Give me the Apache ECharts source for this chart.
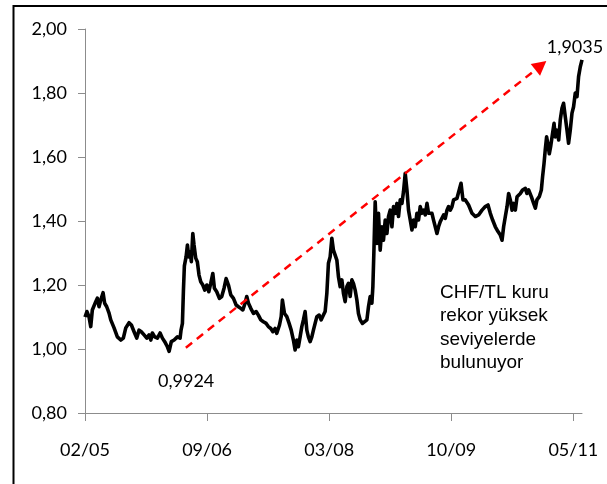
<!DOCTYPE html>
<html>
<head>
<meta charset="utf-8">
<script src="https://cdn.jsdelivr.net/npm/echarts@6/dist/echarts.min.js"></script>
<style>html,body{margin:0;padding:0;background:#fff;}#c{width:607px;height:484px;}</style>
</head>
<body>
<div id="c"></div>
<script>
// x-axis tick labels (one every 100 time units)
var xLabels = ['02/05', '09/06', '03/08', '10/09', '05/11'];
var xTickValues = [0, 100, 200, 300, 400];
// time index of each sample
var tVals = [0, 1.6, 3.3, 4.7, 6.0, 8.8, 10.1, 11.5, 12.9, 14.8, 16.1, 17.8, 19.7, 21.1, 23.8, 26.5, 29.3, 31.4, 33.4, 36.1,
  38.0, 40.2, 42.4, 44.3, 46.1, 48.4, 50.6, 52.5, 53.9, 55.2, 57.1, 59.3, 61.5, 63.4, 65.3, 67.5, 68.9, 70.7, 73.0, 75.7,
  77.9, 78.7, 79.8, 80.6, 81.4, 82.8, 83.9, 85.0, 86.1, 87.1, 88.3, 89.3, 90.7, 92.0, 93.4, 94.8, 96.5, 98.1, 99.8, 101.4,
  103.0, 104.7, 106.0, 107.9, 110.1, 112.0, 113.9, 115.6, 117.5, 119.4, 121.6, 123.8, 125.7, 127.6, 129.3, 131.1, 132.5, 133.9, 135.8, 138.0,
  140.2, 142.0, 144.0, 146.1, 148.4, 150.2, 152.2, 153.9, 155.7, 157.1, 159.3, 160.7, 161.7, 163.4, 165.3, 167.2, 168.9, 170.7, 172.1, 173.5,
  174.8, 176.2, 177.6, 178.9, 180.3, 181.7, 183.0, 184.4, 185.8, 187.1, 188.5, 189.9, 191.8, 193.4, 195.3, 196.7, 198.1, 199.4, 200.8, 202.2,
  203.5, 204.9, 206.3, 207.6, 209.0, 210.4, 211.7, 213.1, 214.5, 215.8, 217.2, 218.6, 219.9, 221.3, 222.7, 224.0, 225.4, 227.3, 228.9, 230.9,
  232.2, 233.6, 235.0, 235.8, 236.6, 237.7, 239.1, 240.4, 241.8, 243.2, 244.5, 245.9, 247.3, 248.6, 250.0, 251.4, 252.7, 254.1, 255.5, 256.8,
  258.2, 259.6, 260.9, 262.3, 263.7, 265.0, 266.4, 267.8, 269.1, 270.5, 271.9, 273.2, 274.6, 276.0, 277.3, 278.7, 280.1, 281.4, 282.8, 284.2,
  285.5, 286.9, 288.3, 289.6, 291.0, 292.4, 293.7, 295.1, 296.5, 297.8, 299.2, 300.6, 301.9, 303.3, 304.7, 306.0, 308.0, 309.6, 311.5, 314.2,
  317.0, 319.7, 322.4, 325.2, 327.9, 330.1, 332.0, 333.9, 336.1, 338.3, 340.2, 341.6, 342.9, 344.3, 345.7, 347.0, 348.4, 349.8, 351.1, 352.5,
  353.9, 355.2, 356.6, 358.4, 360.7, 362.0, 363.4, 365.6, 367.5, 368.9, 370.2, 372.1, 373.8, 374.8, 376.0, 377.0, 378.1, 379.3, 380.3, 381.4,
  383.0, 384.2, 385.2, 386.6, 388.0, 389.3, 390.7, 392.0, 393.4, 394.8, 396.1, 397.5, 398.9, 400.2, 401.6, 403.0, 404.3, 405.7, 407.1];
// CHF/TL rate
var rateVals = [1.100, 1.117, 1.100, 1.070, 1.122, 1.148, 1.159, 1.132, 1.153, 1.176, 1.143, 1.132, 1.112, 1.091, 1.066, 1.038, 1.028, 1.034, 1.066, 1.082,
  1.075, 1.054, 1.034, 1.059, 1.054, 1.044, 1.034, 1.044, 1.028, 1.050, 1.038, 1.034, 1.050, 1.034, 1.023, 1.007, 0.9924, 1.023, 1.028, 1.038,
  1.034, 1.060, 1.080, 1.180, 1.260, 1.288, 1.325, 1.288, 1.304, 1.273, 1.361, 1.325, 1.284, 1.273, 1.231, 1.210, 1.200, 1.184, 1.200, 1.179,
  1.205, 1.236, 1.190, 1.179, 1.158, 1.164, 1.190, 1.220, 1.200, 1.169, 1.158, 1.1375, 1.132, 1.127, 1.122, 1.143, 1.164, 1.143, 1.127, 1.111,
  1.117, 1.106, 1.091, 1.085, 1.080, 1.070, 1.064, 1.054, 1.064, 1.049, 1.075, 1.101, 1.153, 1.111, 1.101, 1.080, 1.059, 1.028, 0.997, 1.028,
  1.007, 1.038, 1.070, 1.091, 1.117, 1.059, 1.038, 1.023, 1.038, 1.059, 1.064, 1.101, 1.106, 1.091, 1.106, 1.117, 1.174, 1.268, 1.288, 1.346,
  1.309, 1.315, 1.278, 1.226, 1.195, 1.216, 1.174, 1.148, 1.195, 1.205, 1.164, 1.216, 1.205, 1.184, 1.153, 1.111, 1.091, 1.080, 1.075, 1.091,
  1.132, 1.164, 1.143, 1.195, 1.299, 1.460, 1.330, 1.424, 1.309, 1.382, 1.340, 1.403, 1.361, 1.414, 1.434, 1.382, 1.445, 1.424, 1.455, 1.414,
  1.466, 1.455, 1.492, 1.549, 1.497, 1.434, 1.403, 1.372, 1.403, 1.382, 1.424, 1.403, 1.445, 1.424, 1.434, 1.419, 1.455, 1.424, 1.419, 1.424,
  1.403, 1.382, 1.361, 1.382, 1.398, 1.403, 1.419, 1.408, 1.434, 1.445, 1.434, 1.445, 1.466, 1.460, 1.471, 1.466, 1.518, 1.466, 1.466, 1.450,
  1.424, 1.414, 1.419, 1.434, 1.445, 1.450, 1.424, 1.403, 1.382, 1.367, 1.356, 1.340, 1.382, 1.414, 1.445, 1.486, 1.466, 1.434, 1.455, 1.434,
  1.476, 1.471, 1.486, 1.497, 1.502, 1.486, 1.497, 1.476, 1.455, 1.440, 1.466, 1.476, 1.497, 1.538, 1.580, 1.622, 1.663, 1.6375, 1.610, 1.632,
  1.674, 1.705, 1.663, 1.684, 1.653, 1.716, 1.752, 1.768, 1.726, 1.684, 1.643, 1.684, 1.737, 1.757, 1.800, 1.789, 1.851, 1.882, 1.9035];
// y-axis ticks
var yMin = 0.8, yMax = 2.0, yStep = 0.2;
// annotations
var lowPoint = [68.9, 0.9924];
var highPoint = [407.1, 1.9035];
var trendStart = [82.6, 1.004];
var trendEnd = [373.4, 1.886];
var noteLines = ['CHF/TL kuru', 'rekor yüksek', 'seviyelerde', 'bulunuyor'];

function fmt(v) { return v.toFixed(2).replace('.', ','); }
function fmt4(v) { return v.toFixed(4).replace('.', ','); }

var seriesData = tVals.map(function (t, i) { return [t, rateVals[i]]; });

var chart = echarts.init(document.getElementById('c'), null, { renderer: 'canvas' });
var axisGray = '#8c8c8c';
var tickFont = 'Lato';
chart.setOption({
  animation: false,
  backgroundColor: '#ffffff',
  grid: { left: 85, right: 25, top: 29, bottom: 71, containLabel: false },
  xAxis: {
    type: 'value', min: 0, max: tVals[tVals.length - 1],
    splitLine: { show: false },
    axisLine: { lineStyle: { color: axisGray, width: 1 } },
    axisTick: { show: true, length: 8, customValues: xTickValues, lineStyle: { color: axisGray } },
    axisLabel: {
      customValues: xTickValues, margin: 28, color: '#000', fontSize: 18, fontFamily: tickFont,
      formatter: function (v) { var k = Math.round(v / 100); return Math.abs(v - k * 100) < 1e-6 ? (xLabels[k] || '') : ''; }
    }
  },
  yAxis: {
    type: 'value', min: yMin, max: yMax, interval: yStep,
    splitLine: { show: false },
    axisLine: { show: true, lineStyle: { color: axisGray, width: 1 } },
    axisTick: { show: true, length: 7, lineStyle: { color: axisGray } },
    axisLabel: { margin: 18, color: '#000', fontSize: 18, fontFamily: tickFont, formatter: fmt }
  },
  series: [{
    type: 'line',
    data: seriesData,
    showSymbol: false,
    symbol: 'none',
    lineStyle: { color: '#000', width: 3.6, join: 'round' },
    silent: true,
    markLine: {
      silent: true,
      symbol: ['none', 'triangle'],
      symbolSize: [15, 14],
      label: { show: false },
      lineStyle: { color: '#ff0000', type: [8, 6], width: 2.5 },
      emphasis: { disabled: true },
      data: [[{ coord: trendStart, itemStyle: { color: '#ff0000' } }, { coord: trendEnd, itemStyle: { color: '#ff0000' } }]]
    },
    markPoint: {
      silent: true,
      symbol: 'circle',
      symbolSize: 1,
      itemStyle: { color: 'rgba(0,0,0,0)' },
      label: { show: true, position: 'inside', color: '#000', fontSize: 18, fontFamily: tickFont },
      data: [
        { coord: lowPoint, label: { offset: [17, 30], formatter: fmt4(lowPoint[1]) } },
        { coord: highPoint, label: { offset: [-7, -13], formatter: fmt4(highPoint[1]) } }
      ]
    }
  }],
  graphic: [
    { type: 'rect', shape: { x: 13.5, y: 6, width: 700, height: 600 }, style: { fill: 'none', stroke: '#000', lineWidth: 2 }, silent: true },
    {
      type: 'text', left: 440, top: 281, silent: true,
      style: { text: noteLines.join('\n'), fill: '#000', font: '19px "Liberation Sans"', lineHeight: 23.5 }
    }
  ]
});
</script>
</body>
</html>
